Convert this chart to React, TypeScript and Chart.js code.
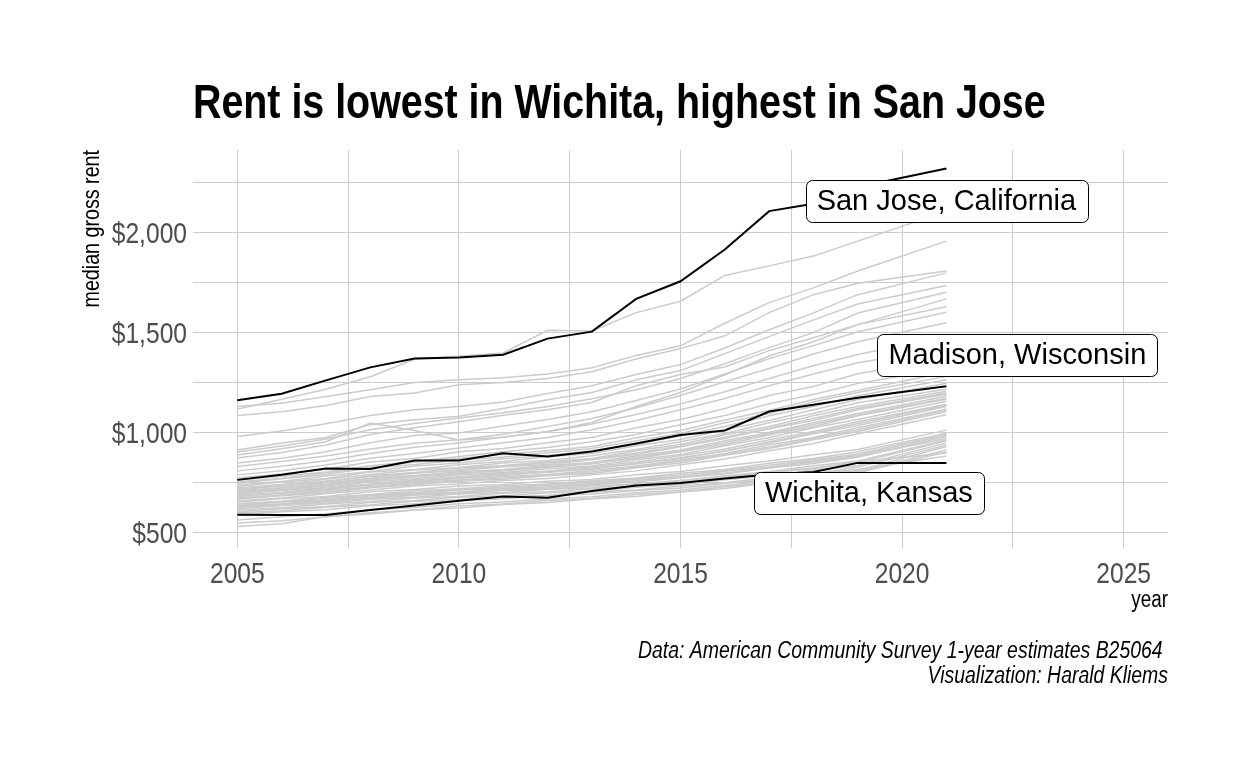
import { useEffect, useRef } from "react";
import { Chart, registerables } from "chart.js";

Chart.register(...registerables);

const BASE = "'Liberation Sans', Arial, sans-serif";
const NARROW_SCALE = 0.82;

const years = [2005, 2006, 2007, 2008, 2009, 2010, 2011, 2012, 2013, 2014, 2015, 2016, 2017, 2018, 2019, 2021];

const sanJose = [1159, 1192, 1259, 1324, 1368, 1374, 1387, 1468, 1503, 1667, 1755, 1914, 2106, 2143, 2227, 2319];
const madison = [761, 787, 818, 816, 858, 858, 894, 878, 903, 943, 986, 1008, 1103, 1137, 1172, 1229];
const wichita = [587, 585, 585, 610, 633, 657, 678, 672, 705, 733, 745, 768, 788, 800, 846, 846];

const otherCities: number[][] = [
  [1115, 1165, 1215, 1277, 1365, 1380, 1396, 1510, 1506, 1598, 1655, 1784, 1832, 1881, 1956, 2105],
  [1128, 1145, 1178, 1212, 1248, 1262, 1272, 1291, 1322, 1384, 1432, 1545, 1648, 1722, 1806, 1956],
  [1083, 1102, 1133, 1178, 1196, 1237, 1248, 1268, 1302, 1366, 1418, 1482, 1598, 1688, 1745, 1806],
  [978, 1006, 1042, 1083, 1112, 1128, 1151, 1193, 1232, 1288, 1338, 1421, 1512, 1597, 1688, 1797],
  [911, 946, 973, 1038, 1062, 1079, 1118, 1162, 1198, 1262, 1308, 1393, 1478, 1562, 1641, 1734],
  [900, 931, 966, 1012, 1043, 1071, 1097, 1128, 1167, 1212, 1268, 1342, 1423, 1498, 1596, 1700],
  [886, 917, 952, 1045, 1008, 961, 974, 1003, 1048, 1128, 1198, 1287, 1381, 1452, 1538, 1667],
  [870, 898, 936, 988, 1022, 1052, 1084, 1112, 1148, 1232, 1288, 1326, 1408, 1472, 1538, 1627],
  [845, 869, 902, 947, 983, 996, 1031, 1063, 1102, 1158, 1216, 1291, 1368, 1433, 1502, 1600],
  [828, 853, 881, 916, 944, 962, 989, 1028, 1068, 1122, 1183, 1252, 1318, 1391, 1452, 1547],
  [806, 829, 857, 893, 924, 946, 976, 1002, 1041, 1088, 1141, 1202, 1268, 1332, 1388, 1480],
  [786, 807, 836, 869, 893, 921, 947, 973, 1012, 1058, 1112, 1168, 1232, 1291, 1347, 1420],
  [770, 791, 814, 851, 868, 902, 918, 947, 973, 1022, 1063, 1118, 1183, 1228, 1292, 1370],
  [760, 779, 801, 832, 853, 878, 902, 923, 952, 988, 1037, 1083, 1142, 1188, 1243, 1320],
  [752, 768, 797, 823, 851, 868, 889, 907, 928, 972, 1008, 1061, 1108, 1163, 1208, 1300],
  [744, 766, 788, 820, 838, 861, 876, 897, 918, 957, 993, 1047, 1093, 1152, 1198, 1279],
  [736, 753, 780, 803, 830, 846, 867, 883, 907, 938, 982, 1028, 1082, 1128, 1182, 1262],
  [728, 750, 768, 800, 813, 837, 853, 877, 893, 932, 963, 1012, 1058, 1112, 1163, 1245],
  [720, 738, 764, 788, 810, 823, 845, 858, 882, 913, 952, 993, 1047, 1093, 1147, 1215],
  [716, 730, 755, 776, 796, 812, 830, 845, 866, 896, 930, 975, 1020, 1068, 1118, 1196],
  [712, 732, 750, 782, 798, 820, 833, 852, 868, 907, 938, 987, 1028, 1082, 1128, 1204],
  [706, 722, 747, 768, 794, 808, 827, 838, 862, 888, 927, 968, 1017, 1058, 1112, 1190],
  [700, 720, 738, 767, 783, 802, 813, 834, 848, 882, 910, 957, 998, 1047, 1093, 1179],
  [698, 714, 730, 760, 775, 795, 806, 828, 840, 874, 905, 948, 992, 1038, 1086, 1170],
  [695, 710, 735, 756, 778, 790, 810, 823, 844, 868, 902, 938, 987, 1028, 1082, 1165],
  [690, 708, 723, 752, 766, 787, 798, 817, 830, 862, 888, 932, 973, 1022, 1063, 1154],
  [684, 698, 722, 740, 762, 776, 794, 806, 827, 850, 882, 916, 962, 1003, 1052, 1140],
  [682, 694, 716, 734, 756, 768, 788, 798, 820, 840, 872, 904, 952, 996, 1043, 1134],
  [678, 697, 712, 738, 752, 772, 783, 802, 814, 844, 868, 907, 946, 992, 1033, 1128],
  [672, 686, 708, 726, 748, 760, 778, 788, 808, 830, 862, 893, 937, 973, 1022, 1115],
  [668, 684, 700, 724, 740, 756, 770, 784, 800, 826, 854, 888, 926, 968, 1012, 1110],
  [665, 682, 696, 722, 736, 754, 764, 782, 793, 822, 846, 884, 918, 962, 1003, 1103],
  [656, 670, 692, 710, 730, 740, 758, 768, 787, 806, 837, 866, 907, 943, 992, 1087],
  [650, 667, 678, 702, 713, 730, 738, 754, 763, 787, 803, 832, 856, 887, 913, 1010],
  [642, 654, 674, 688, 707, 716, 732, 740, 757, 770, 794, 813, 844, 868, 902, 995],
  [640, 652, 668, 684, 698, 712, 724, 736, 750, 766, 786, 808, 834, 862, 890, 990],
  [634, 650, 660, 682, 693, 710, 718, 734, 743, 764, 778, 804, 826, 857, 883, 985],
  [630, 642, 660, 674, 690, 700, 714, 726, 740, 756, 776, 796, 822, 850, 878, 968],
  [626, 638, 657, 670, 688, 696, 712, 720, 737, 750, 772, 790, 820, 843, 874, 978],
  [618, 634, 644, 664, 674, 690, 698, 714, 722, 742, 756, 782, 803, 832, 856, 961],
  [610, 622, 640, 653, 670, 678, 694, 701, 717, 728, 750, 768, 797, 818, 848, 955],
  [602, 617, 628, 648, 658, 674, 682, 697, 704, 724, 738, 762, 782, 810, 833, 945],
  [596, 606, 624, 636, 654, 662, 677, 684, 700, 710, 730, 746, 772, 793, 824, 935],
  [560, 577, 590, 612, 623, 642, 650, 667, 676, 696, 710, 734, 754, 784, 808, 928],
  [545, 556, 577, 590, 610, 620, 638, 648, 666, 678, 700, 718, 746, 768, 802, 911],
  [527, 541, 577, 597, 610, 630, 640, 658, 668, 688, 702, 727, 746, 774, 796, 900],
  [620, 633, 652, 666, 684, 693, 708, 714, 730, 740, 758, 774, 800, 820, 850, 895],
  [588, 602, 612, 632, 642, 658, 666, 682, 690, 708, 720, 744, 762, 790, 813, 880],
];

const xGridValues = [2005, 2007.5, 2010, 2012.5, 2015, 2017.5, 2020, 2022.5, 2025];
const yGridValues = [500, 750, 1000, 1250, 1500, 1750, 2000, 2250];
const xTickValues = [2005, 2010, 2015, 2020, 2025];
const xTickLabels = ["2005", "2010", "2015", "2020", "2025"];
const yTickValues = [500, 1000, 1500, 2000];
const yTickLabels = ["$500", "$1,000", "$1,500", "$2,000"];

const labelTexts = ["San Jose, California", "Madison, Wisconsin", "Wichita, Kansas"];
const labelYears = [2021.0, 2022.6, 2019.25];
const labelValues = [2159, 1386, 693];

const titleText = "Rent is lowest in Wichita, highest in San Jose";
const xAxisTitle = "year";
const yAxisTitle = "median gross rent";
const captionLines = ["Data: American Community Survey 1-year estimates B25064 ", "Visualization: Harald Kliems"];

const toPoints = (vals: number[]) => years.map((yr, i) => ({ x: yr, y: vals[i] }));

function narrowText(
  ctx: CanvasRenderingContext2D,
  text: string,
  x: number,
  y: number,
  font: string,
  align: CanvasTextAlign,
  color: string,
  rotate = false
) {
  ctx.save();
  ctx.translate(x, y);
  if (rotate) ctx.rotate(-Math.PI / 2);
  ctx.scale(NARROW_SCALE, 1);
  ctx.font = font;
  ctx.fillStyle = color;
  ctx.textAlign = align;
  ctx.textBaseline = "alphabetic";
  ctx.fillText(text, 0, 0);
  ctx.restore();
}

const decorPlugin = {
  id: "decor",
  afterDatasetsDraw(chart: any) {
    const { ctx, scales } = chart;
    const xs = scales.x;
    const ys = scales.y;
    ctx.save();
    ctx.font = `29px ${BASE}`;
    labelTexts.forEach((t, i) => {
      const cx = xs.getPixelForValue(labelYears[i]);
      const cy = ys.getPixelForValue(labelValues[i]);
      const w = ctx.measureText(t).width + 22;
      const h = 42;
      const left = Math.round(cx - w / 2) + 0.5;
      const top = Math.round(cy - h / 2) + 0.5;
      ctx.beginPath();
      ctx.roundRect(left, top, Math.round(w), h, 6);
      ctx.fillStyle = "#ffffff";
      ctx.fill();
      ctx.lineWidth = 1;
      ctx.strokeStyle = "#000000";
      ctx.stroke();
      ctx.fillStyle = "#000000";
      ctx.textAlign = "center";
      ctx.textBaseline = "middle";
      ctx.fillText(t, cx, cy + 1);
    });
    ctx.restore();
  },
  afterDraw(chart: any) {
    const { ctx, chartArea, scales } = chart;
    const xs = scales.x;
    const ys = scales.y;
    narrowText(ctx, titleText, chartArea.left, 118, `bold 48px ${BASE}`, "left", "#000000");
    xTickValues.forEach((v, i) => {
      narrowText(ctx, xTickLabels[i], xs.getPixelForValue(v), 583, `30px ${BASE}`, "center", "#4d4d4d");
    });
    yTickValues.forEach((v, i) => {
      narrowText(ctx, yTickLabels[i], chartArea.left - 6, ys.getPixelForValue(v) + 10.5, `30px ${BASE}`, "right", "#4d4d4d");
    });
    narrowText(ctx, xAxisTitle, chartArea.right, 607, `23px ${BASE}`, "right", "#000000");
    narrowText(ctx, yAxisTitle, 99, chartArea.top, `24px ${BASE}`, "right", "#000000", true);
    narrowText(ctx, captionLines[0], chartArea.right, 658, `italic 23.7px ${BASE}`, "right", "#000000");
    narrowText(ctx, captionLines[1], chartArea.right, 683, `italic 23.7px ${BASE}`, "right", "#000000");
  },
};

export default function App() {
  const canvasRef = useRef<HTMLCanvasElement | null>(null);

  useEffect(() => {
    const canvas = canvasRef.current;
    if (!canvas) return;
    const highlighted = [sanJose, madison, wichita].map((vals) => ({
      data: toPoints(vals),
      borderColor: "#000000",
      borderWidth: 2,
      pointRadius: 0,
      tension: 0,
    }));
    const others = otherCities.map((vals) => ({
      data: toPoints(vals),
      borderColor: "#cbcbcb",
      borderWidth: 1.5,
      pointRadius: 0,
      tension: 0,
    }));
    const chart = new Chart(canvas, {
      type: "line",
      data: { datasets: [...highlighted, ...others] },
      options: {
        animation: false,
        responsive: false,
        devicePixelRatio: 1,
        layout: { padding: { top: 150, right: 80, left: 79, bottom: 154 } },
        plugins: {
          legend: { display: false },
          tooltip: { enabled: false },
          title: { display: false },
        },
        scales: {
          x: {
            type: "linear",
            min: 2004,
            max: 2026,
            afterBuildTicks: (scale: any) => {
              scale.ticks = xGridValues.map((v) => ({ value: v }));
            },
            afterFit: (scale: any) => {
              scale.height = 66;
            },
            border: { display: false },
            grid: { color: "#cccccc", lineWidth: 1, drawTicks: false },
            ticks: { display: false, autoSkip: false },
            title: { display: false },
          },
          y: {
            type: "linear",
            min: 420,
            max: 2412,
            afterBuildTicks: (scale: any) => {
              scale.ticks = yGridValues.map((v) => ({ value: v }));
            },
            afterFit: (scale: any) => {
              scale.width = 114;
            },
            border: { display: false },
            grid: { color: "#cccccc", lineWidth: 1, drawTicks: false },
            ticks: { display: false, autoSkip: false },
            title: { display: false },
          },
        },
      },
      plugins: [decorPlugin],
    } as any);
    return () => chart.destroy();
  }, []);

  return (
    <div style={{ position: "absolute", left: 0, top: 0, width: 1248, height: 768, background: "#ffffff" }}>
      <canvas ref={canvasRef} width={1248} height={768} style={{ width: 1248, height: 768 }} />
    </div>
  );
}
